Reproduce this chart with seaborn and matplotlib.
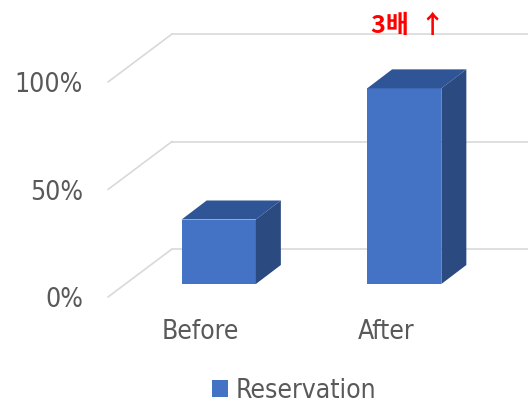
import matplotlib
matplotlib.use("Agg")
import matplotlib.pyplot as plt
import matplotlib.transforms as mtransforms
from matplotlib.patches import Polygon
from matplotlib.lines import Line2D
import seaborn as sns

# chart data
categories = ["Before", "After"]
reservation = [0.30, 0.91]
ticks = [0.0, 0.5, 1.0]
tick_labels = ["0%", "50%", "100%"]
series_name = "Reservation"
note = "3배  ↑"

FRONT = "#4472C4"
TOP = "#2F5597"
SIDE = "#2A4A80"
GRID = "#D9D9D9"
TEXT = "#595959"

sns.set_style("white")
plt.rcParams["font.family"] = ["DejaVu Sans"]
plt.rcParams["font.stretch"] = "condensed"

W, H = 528, 408
fig = plt.figure(figsize=(W / 100, H / 100), dpi=100)
ax = fig.add_axes([108 / W, 1 - 297 / H, 371 / W, 215 / H])

px = fig.dpi / 100.0
# fake 3D offsets (pixels): back wall, bar front plane, bar depth
back_dx, back_dy = 64 * px, 48 * px
bar_shift = mtransforms.ScaledTranslation(0.18, 0.13, fig.dpi_scale_trans)
depth_dx, depth_dy = 25 * px, 19 * px

sns.barplot(x=categories, y=reservation, color=FRONT, saturation=1,
            width=0.4, linewidth=0, label=series_name, ax=ax, zorder=3)
ax.set_xlim(-0.5, 1.5)
ax.set_ylim(0, 1)

# gridlines on the back wall, with a diagonal on the side wall
ident = mtransforms.IdentityTransform()
for v in ticks:
    fx, fy = ax.transData.transform((-0.5, v))
    fig.add_artist(Line2D([fx, fx + back_dx], [fy, fy + back_dy], color=GRID,
                          lw=1.2, transform=ident, zorder=1))
    ax.plot([-0.5, 2.0], [v, v], color=GRID, lw=1.2, clip_on=False, zorder=1,
            transform=ax.transData + mtransforms.ScaledTranslation(
                back_dx / fig.dpi, back_dy / fig.dpi, fig.dpi_scale_trans))

# top and side faces of each bar
shift = ax.transData + bar_shift
for patch in ax.patches:
    patch.set_transform(shift)
    x, w, h = patch.get_x(), patch.get_width(), patch.get_height()
    (x0, y0), (x1, y1) = shift.transform([(x, h), (x + w, h)])
    _, yb = shift.transform((x + w, 0))
    top = [(x0, y0), (x1, y1), (x1 + depth_dx, y1 + depth_dy), (x0 + depth_dx, y0 + depth_dy)]
    side = [(x1, yb), (x1, y1), (x1 + depth_dx, y1 + depth_dy), (x1 + depth_dx, yb + depth_dy)]
    ax.add_patch(Polygon(top, closed=True, facecolor=TOP, edgecolor="none",
                         transform=ident, clip_on=False, zorder=3))
    ax.add_patch(Polygon(side, closed=True, facecolor=SIDE, edgecolor="none",
                         transform=ident, clip_on=False, zorder=3))

sns.despine(ax=ax, left=True, bottom=True)
ax.set_yticks(ticks, tick_labels)
ax.tick_params(axis="y", length=0, pad=18, labelsize=19, labelcolor=TEXT)
ax.tick_params(axis="x", length=0, pad=16, labelsize=19, labelcolor=TEXT)
ax.set_xlabel("")
ax.set_ylabel("")

ax.legend(loc="center", bbox_to_anchor=(294 / W, 17 / H), bbox_transform=fig.transFigure,
          frameon=False, fontsize=19, handlelength=0.6, handleheight=0.6,
          handletextpad=0.3, labelcolor=TEXT)

fig.text(408 / W, 1 - 26 / H, note, color="red", fontsize=18, fontweight="bold",
         ha="center", va="center", family=["Noto Sans CJK KR", "DejaVu Sans"])

fig.savefig("out.png", dpi=100)
